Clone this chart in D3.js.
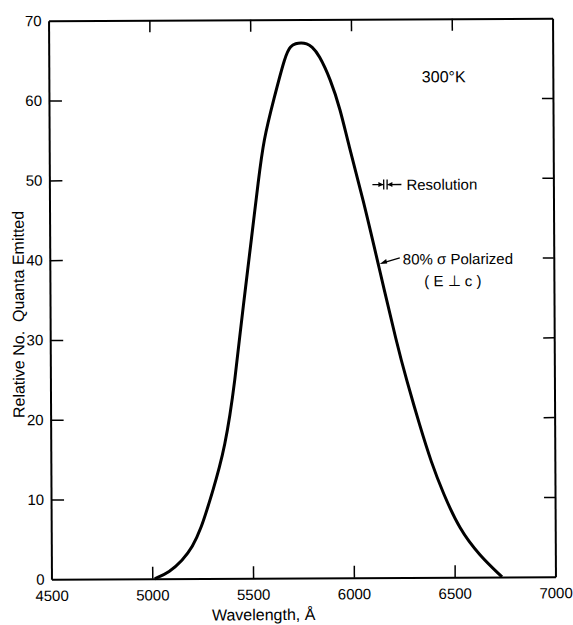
<!DOCTYPE html>
<html>
<head>
<meta charset="utf-8">
<script src="https://cdn.jsdelivr.net/npm/d3@7/dist/d3.min.js"></script>
<style>
  body { margin: 0; background: #fff; }
  svg { display: block; font-family: "Liberation Sans", Arial, sans-serif; fill: #000; }
  .axis path, .axis line { stroke: #000; }
  .axis text { font-size: 15px; fill: #000; font-family: "Liberation Sans", Arial, sans-serif; }
</style>
</head>
<body>
<svg id="chart" width="573" height="625"></svg>
<script>
// emission spectrum
var wavelength = [5012, 5085, 5150, 5200, 5245, 5278, 5303, 5337, 5363, 5389, 5415, 5438, 5471, 5500, 5537,
                  5564, 5615, 5674, 5700, 5725, 5752, 5780, 5806, 5840, 5897, 5945, 5983, 6058, 6129,
                  6222, 6266, 6331, 6387, 6444, 6525, 6624, 6735];
var quanta = [0, 0.8, 2.3, 3.9, 6.4, 9.0, 11.0, 14.0, 16.7, 20.3, 24.8, 29.9, 36.6, 42.4, 49.9,
              55.0, 60.0, 65.6, 66.7, 67.0, 67.1, 67.0, 66.6, 65.6, 62.5, 58.7, 54.5, 47.2, 39.3,
              29.0, 24.8, 19.0, 14.4, 10.6, 6.0, 2.7, 0];

var xTicks = [4500, 5000, 5500, 6000, 6500, 7000];
var yTicks = [0, 10, 20, 30, 40, 50, 60, 70];

// plot frame (window.top is taken, so prefixed names)
var pLeft = 50, pRight = 554, pTop = 19.5, pBottom = 578;

var svg = d3.select("#chart");
// the scanned figure is a little tilted
var g = svg.append("g").attr("transform", "rotate(-0.3, 302, 299)");

var x = d3.scaleLinear().domain([4500, 7000]).range([pLeft, pRight]);
var y = d3.scaleLinear().domain([0, 70]).range([pBottom, pTop]);

g.append("g").attr("class", "axis")
    .attr("transform", "translate(0," + pBottom + ")")
    .call(d3.axisBottom(x).tickValues(xTicks).tickSize(-12).tickSizeOuter(0).tickPadding(11).tickFormat(d3.format("d")));

g.append("g").attr("class", "axis")
    .attr("transform", "translate(0," + pTop + ")")
    .call(d3.axisTop(x).tickValues(xTicks.slice(1, -1)).tickSize(-12).tickSizeOuter(0).tickFormat(""));

g.append("g").attr("class", "axis")
    .attr("transform", "translate(" + pLeft + ",0)")
    .call(d3.axisLeft(y).tickValues(yTicks).tickSize(-13).tickSizeOuter(0).tickPadding(7));

g.append("g").attr("class", "axis")
    .attr("transform", "translate(" + pRight + ",0)")
    .call(d3.axisRight(y).tickValues(yTicks.slice(1, -1)).tickSize(-11).tickSizeOuter(0).tickFormat(""));

g.selectAll(".axis path.domain").attr("stroke-width", 2);
g.selectAll(".axis .tick line").attr("stroke-width", 1.5);
g.selectAll(".axis .tick").filter(function(d) { return d === 4500 || d === 7000 || d === 0 || d === 70; })
    .select("line").remove();

var line = d3.line()
    .x(function(d, i) { return x(wavelength[i]); })
    .y(function(d) { return y(d); })
    .curve(d3.curveBasis);

g.append("path")
    .datum(quanta)
    .attr("d", line)
    .attr("fill", "none")
    .attr("stroke", "#000")
    .attr("stroke-width", 3)
    .attr("stroke-linejoin", "round");

// axis titles
g.append("text")
    .attr("x", 262).attr("y", 620)
    .attr("text-anchor", "middle")
    .attr("font-size", 16)
    .text("Wavelength, \u00c5");

g.append("text")
    .attr("transform", "translate(24,313) rotate(-90)")
    .attr("text-anchor", "middle")
    .attr("font-size", 16)
    .attr("xml:space", "preserve")
    .text("Relative No.  Quanta Emitted");

// annotations
g.append("text").attr("x", 423).attr("y", 83).attr("font-size", 16).text("300\u00b0K");

g.append("text").attr("x", 407).attr("y", 190.5).attr("font-size", 15).text("Resolution");

// resolution marker
var ry = 185;
g.append("line").attr("x1", 373).attr("x2", 384).attr("y1", ry).attr("y2", ry).attr("stroke", "#000").attr("stroke-width", 1.3);
g.append("line").attr("x1", 388).attr("x2", 402).attr("y1", ry).attr("y2", ry).attr("stroke", "#000").attr("stroke-width", 1.3);
g.append("line").attr("x1", 384.3).attr("x2", 384.3).attr("y1", ry - 5).attr("y2", ry + 5).attr("stroke", "#000").attr("stroke-width", 1.3);
g.append("line").attr("x1", 387.7).attr("x2", 387.7).attr("y1", ry - 5).attr("y2", ry + 5).attr("stroke", "#000").attr("stroke-width", 1.3);
g.append("path").attr("d", "M384,185 L379,182.5 L379,187.5 Z").attr("fill", "#000");
g.append("path").attr("d", "M388,185 L393,182.5 L393,187.5 Z").attr("fill", "#000");

g.append("text").attr("x", 403).attr("y", 265).attr("font-size", 15).text("80% \u03c3 Polarized");
g.append("text").attr("x", 453).attr("y", 287).attr("font-size", 15).attr("text-anchor", "middle")
    .attr("xml:space", "preserve").text("( E \u22a5 c )");

// pointer to the curve
var px = x(6129) + 1.5, py = y(39.3);
g.append("line").attr("x1", 400).attr("y1", 258.5).attr("x2", px + 4).attr("y2", py - 1.3)
    .attr("stroke", "#000").attr("stroke-width", 1.3);
g.append("path")
    .attr("d", "M" + px + "," + py + " L" + (px + 6.5) + "," + (py - 5) + " L" + (px + 7.5) + "," + (py - 0.5) + " Z")
    .attr("fill", "#000");
</script>
</body>
</html>
